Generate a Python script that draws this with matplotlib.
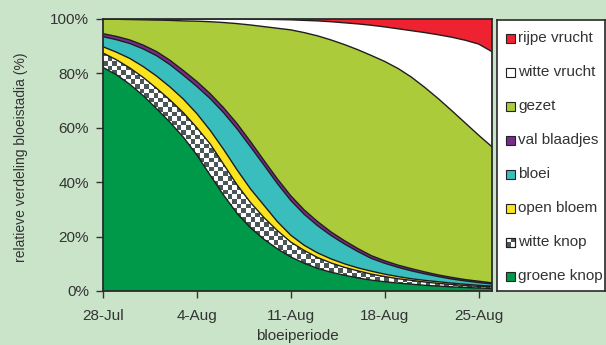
import numpy as np
import matplotlib
matplotlib.use("Agg")
import matplotlib.pyplot as plt
from matplotlib.patches import Rectangle
from matplotlib.colors import ListedColormap

plt.rcParams['font.family'] = ['Liberation Sans', 'DejaVu Sans']

# ---- data: cumulative share (%) up to and including each stage, per day after 28-Jul ----
days = list(range(30))
top_groene_knop = [82.2, 79.5, 76, 71.8, 67, 62, 56.5, 50, 42.5, 35.2, 28.5, 23.2, 19, 15.5, 12.5,
                   10.2, 8.3, 6.9, 5.8, 4.8, 4, 3.4, 2.9, 2.5, 2.1, 1.8, 1.5, 1.3, 1.1, 0.9]
top_witte_knop = [87.5, 85, 82, 78.5, 74.5, 70.2, 65.5, 60, 54, 46.5, 39, 32.5, 27, 22.2, 18,
                  14.9, 12.3, 10.3, 8.7, 7.4, 6.2, 5.3, 4.5, 3.9, 3.3, 2.8, 2.4, 2.0, 1.7, 1.5]
top_open_bloem = [89.8, 87.8, 85.5, 82.5, 79, 75, 70.5, 65.2, 59, 52, 44.5, 37.5, 31.5, 25.5, 20.5,
                  16.8, 14, 11.8, 10, 8.5, 7.3, 6.2, 5.3, 4.5, 3.9, 3.4, 2.9, 2.5, 2.1, 1.8]
top_bloei = [93.5, 92.4, 91, 89, 86.5, 83.2, 79.3, 75.2, 70.7, 65.5, 59.6, 53, 46.3, 39.5, 33.3,
             28.2, 24, 20.4, 17.3, 14.5, 12, 10.2, 8.7, 7.4, 6.3, 5.3, 4.4, 3.7, 3.1, 2.6]
top_val_blaadjes = [94.6, 93.6, 92.3, 90.4, 88, 84.8, 81, 77, 72.5, 67.3, 61.5, 54.9, 48, 41.2, 35,
                    29.8, 25.5, 21.7, 18.5, 15.6, 13, 11.1, 9.5, 8.2, 7, 5.9, 5, 4.2, 3.6, 3.0]
top_gezet = [99.9, 99.9, 99.8, 99.7, 99.6, 99.5, 99.3, 99.2, 99.0, 98.7, 98.3, 97.8, 97.2, 96.6, 96.0,
             95.0, 93.8, 92.3, 90.6, 88.7, 86.6, 84.4, 81.8, 78.6, 74.8, 70.7, 66.3, 61.8, 57.3, 53]
top_witte_vrucht = [100, 100, 100, 100, 100, 100, 100, 100, 100, 100, 100, 100, 99.9, 99.8, 99.7,
                    99.5, 99.3, 99.0, 98.6, 98.2, 97.7, 97.1, 96.4, 95.7, 95.0, 94.2, 93.3, 92.2, 90.8, 88]
top_rijpe_vrucht = [100] * 30

labels = ['groene knop', 'witte knop', 'open bloem', 'bloei', 'val blaadjes',
          'gezet', 'witte vrucht', 'rijpe vrucht']
tick_days = [0, 7, 14, 21, 28]
tick_labels = ['28-Jul', '4-Aug', '11-Aug', '18-Aug', '25-Aug']
y_ticks = [0, 20, 40, 60, 80, 100]

tops = np.array([top_groene_knop, top_witte_knop, top_open_bloem, top_bloei,
                 top_val_blaadjes, top_gezet, top_witte_vrucht, top_rijpe_vrucht], dtype=float)
shares = np.diff(np.vstack([np.zeros(len(days)), tops]), axis=0)

# ---- style ----
bg = '#CAE4C9'
colors = ['#009849', '#FFFFFF', '#FBE41F', '#39BEBD', '#7A2B8D',
          '#ABCB3A', '#FFFFFF', '#EE2230']
checker_dark = '#4B5656'
txt = '#333333'

W, H = 606, 345
fig = plt.figure(figsize=(W / 100, H / 100), dpi=100, facecolor=bg)
ax_l, ax_r, ax_t, ax_b = 103, 492, 19, 291
ax = fig.add_axes([ax_l / W, (H - ax_b) / H, (ax_r - ax_l) / W, (ax_b - ax_t) / H])

polys = ax.stackplot(days, *shares, colors=colors, linewidth=0)

# checker pattern for 'witte knop'
cell = 4.6
nx = int((ax_r - ax_l) / cell) + 1
ny = int((ax_b - ax_t) / cell) + 1
ii, jj = np.indices((ny, nx))
chk = (ii + jj) % 2
img = ax.imshow(chk, extent=(0, nx * cell / (ax_r - ax_l) * 29, 0, ny * cell / (ax_b - ax_t) * 100),
                origin='lower', aspect='auto', interpolation='nearest',
                cmap=ListedColormap(['#FFFFFF', checker_dark]), zorder=1.5)
img.set_clip_path(polys[1].get_paths()[0], ax.transData)
ax.set_xlim(0, 29)
ax.set_ylim(0, 100)

# boundary lines
cum = np.cumsum(shares, axis=0)
for k in range(len(labels) - 1):
    ax.plot(days, cum[k], color='#1E1E1E', lw=1.0, zorder=3, solid_joinstyle='round')

for s in ax.spines.values():
    s.set_color('#2A2A2A')
    s.set_linewidth(1.3)
    s.set_zorder(4)

ax.set_xticks(tick_days)
ax.set_xticklabels(tick_labels)
ax.set_yticks(y_ticks)
ax.set_yticklabels([f'{v}%' for v in y_ticks])
ax.tick_params(axis='x', direction='out', length=5, width=1, color='#333333',
               labelsize=11, labelcolor=txt, pad=8)
ax.tick_params(axis='y', direction='out', length=5, width=1, color='#333333',
               labelsize=11, labelcolor=txt, pad=5)

fig.text(21 / W, 1 - 157 / H, 'relatieve verdeling bloeistadia (%)', rotation=90,
         ha='center', va='center', fontsize=10, color=txt)
fig.text(297 / W, 1 - 336 / H, 'bloeiperiode', ha='center', va='center',
         fontsize=11, color=txt)

# ---- legend ----
lg_l, lg_r, lg_t, lg_b = 497, 605, 20, 291
lax = fig.add_axes([lg_l / W, (H - lg_b) / H, (lg_r - lg_l) / W, (lg_b - lg_t) / H])
lax.set_xlim(lg_l, lg_r)
lax.set_ylim(lg_b, lg_t)
lax.set_xticks([])
lax.set_yticks([])
lax.set_facecolor('white')
for s in lax.spines.values():
    s.set_color('#2A2A2A')
    s.set_linewidth(1.2)

order = list(range(len(labels)))[::-1]
for n, k in enumerate(order):
    yc = 38 + 34 * n
    x0 = 506
    sz = 9
    if k == 1:
        lax.add_patch(Rectangle((x0, yc - sz / 2), sz, sz, facecolor='white',
                                edgecolor='#222222', lw=0.8))
        lax.add_patch(Rectangle((x0, yc), sz / 2, sz / 2, facecolor=checker_dark, lw=0))
        lax.add_patch(Rectangle((x0 + sz / 2, yc - sz / 2), sz / 2, sz / 2,
                                facecolor=checker_dark, lw=0))
        lax.add_patch(Rectangle((x0, yc - sz / 2), sz, sz, facecolor='none',
                                edgecolor='#222222', lw=0.8))
    else:
        lax.add_patch(Rectangle((x0, yc - sz / 2), sz, sz, facecolor=colors[k],
                                edgecolor='#222222', lw=0.8))
    lax.text(518, yc, labels[k], ha='left', va='center', fontsize=11, color=txt)

fig.savefig('out.png', dpi=100, facecolor=bg)
